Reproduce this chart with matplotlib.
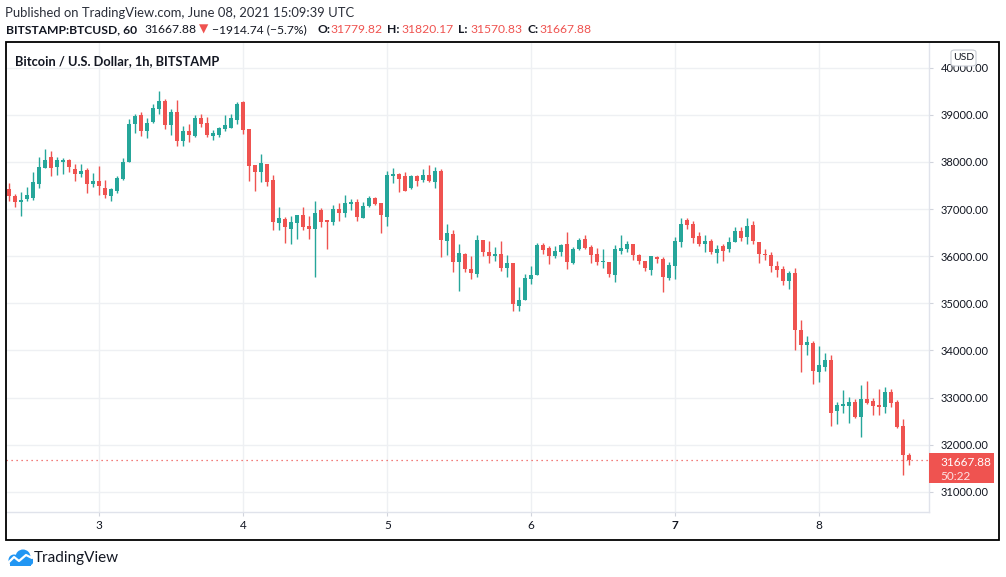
import numpy as np
import matplotlib
matplotlib.use("Agg")
import matplotlib.pyplot as plt
from matplotlib.patches import Rectangle, FancyBboxPatch, Circle

plt.rcParams['font.family'] = ['Lato', 'DejaVu Sans']

# BTCUSD 1h candles, June 2 09:00 -> June 8 15:00 (UTC)
opens = [37417, 37269, 37149, 37206, 37234, 37530, 37869, 38095, 37891, 37997,
         38032, 37841, 37742, 37820, 37530, 37587, 37439, 37276, 37382, 37629,
         37989, 38802, 38985, 38653, 38837, 39112, 39282, 38780, 39049, 38441,
         38646, 38547, 38922, 38816, 38547, 38569, 38696, 38717, 38886, 39261,
         38689, 37926, 37785, 37947, 37615, 36704, 36782, 36577, 36704, 36874,
         36641, 36577, 36973, 36761, 36718, 36994, 36909, 37100, 37142, 36803,
         37057, 37227, 37121, 36824, 37693, 37735, 37693, 37439, 37693, 37608,
         37714, 37566, 37799, 36316, 36464, 35878, 36040, 35723, 35617, 36337,
         36083, 36005, 36040, 35751, 35850, 34946, 35073, 35518, 35596, 36231,
         36167, 36005, 36090, 36252, 35850, 36146, 36358, 36189, 36040, 35878,
         35871, 35602, 36111, 36146, 36252, 36019, 35899, 35708, 35977, 35934,
         35539, 35793, 36302, 36761, 36676, 36422, 36259, 36316, 36069, 36210,
         36153, 36302, 36528, 36400, 36655, 36295, 36047, 36026, 35786, 35723,
         35475, 35638, 34437, 34120, 34155, 33548, 33653, 33795, 32721, 32827,
         32827, 32912, 32594, 32968, 32926, 32841, 32806, 33117, 32912, 32396,
         31779.82]
highs = [37545, 37326, 37354, 37460, 37778, 38095, 38265, 38223, 38095, 38074,
         38053, 37947, 37947, 37862, 37756, 37905, 37608, 37439, 37693, 38074,
         38900, 39006, 39049, 38922, 39232, 39494, 39324, 39112, 39303, 38752,
         38794, 38985, 39006, 38943, 38667, 38731, 38985, 39006, 39261, 39282,
         38689, 37926, 38159, 37947, 37714, 37043, 36831, 36853, 36874, 37043,
         36853, 37163, 37015, 36761, 37078, 37121, 37290, 37206, 37206, 37142,
         37269, 37248, 37121, 37799, 37862, 37756, 37778, 37714, 37714, 37841,
         37926, 37884, 37841, 36676, 36549, 36252, 36062, 35998, 36443, 36337,
         36316, 36189, 36316, 36019, 35850, 35341, 35617, 35786, 36273, 36273,
         36210, 36210, 36252, 36507, 36189, 36379, 36443, 36231, 36167, 36146,
         35871, 36231, 36443, 36316, 36252, 36047, 35899, 35998, 35998, 35977,
         35878, 36408, 36810, 36803, 36747, 36521, 36443, 36358, 36231, 36252,
         36401, 36612, 36612, 36810, 36740, 36295, 36146, 36083, 35892, 35786,
         35680, 35744, 34649, 34303, 34197, 34098, 33943, 33908, 32912, 33159,
         33018, 32975, 33272, 33350, 32990, 33187, 33230, 33187, 32954, 32545,
         31820.17]
lows = [37170, 37043, 36853, 37170, 37184, 37446, 37869, 37693, 37721, 37742,
        37785, 37594, 37679, 37340, 37467, 37297, 37234, 37170, 37340, 37615,
        37989, 38611, 38547, 38505, 38816, 39006, 38689, 38569, 38336, 38336,
        38420, 38526, 38738, 38526, 38463, 38526, 38653, 38717, 38802, 38590,
        37594, 37382, 37573, 37488, 36556, 36556, 36280, 36259, 36365, 36556,
        36365, 35560, 36612, 36146, 36662, 36740, 36824, 36973, 36740, 36803,
        37036, 37078, 36485, 36633, 37545, 37354, 37382, 37425, 37481, 37566,
        37566, 37439, 35984, 36019, 35659, 35264, 35659, 35518, 35560, 35998,
        35857, 35892, 35687, 35560, 34840, 34840, 35073, 35405, 35596, 36047,
        35836, 35963, 36005, 35730, 35836, 36132, 36153, 35857, 35814, 35751,
        35560, 35454, 36047, 36090, 35920, 35836, 35687, 35595, 35857, 35242,
        35490, 35518, 36196, 36577, 36280, 36217, 36090, 36047, 35857, 35899,
        36090, 36302, 36323, 36259, 36259, 35857, 35920, 35666, 35560, 35391,
        35306, 34014, 33548, 33908, 33293, 33336, 33569, 32403, 32432, 32679,
        32467, 32573, 32170, 32869, 32636, 32636, 32679, 32806, 32361, 31358,
        31570.83]
closes = [37276, 37149, 37184, 37290, 37566, 37884, 38032, 37869, 38032, 38032,
          37891, 37742, 37799, 37530, 37587, 37488, 37297, 37417, 37650, 37989,
          38794, 38964, 38653, 38816, 39134, 39289, 38780, 39049, 38441, 38646,
          38569, 38922, 38802, 38569, 38604, 38710, 38773, 38922, 39218, 38675,
          37912, 37785, 37968, 37573, 36725, 36810, 36619, 36718, 36874, 36619,
          36577, 36909, 36718, 36718, 36994, 36909, 37121, 37142, 36824, 37057,
          37227, 37100, 36867, 37714, 37735, 37629, 37382, 37693, 37587, 37714,
          37587, 37799, 36337, 36485, 35871, 36062, 35723, 35638, 36337, 36083,
          36005, 36040, 35751, 35850, 34988, 35066, 35532, 35596, 36231, 36132,
          36005, 36104, 36231, 35871, 36146, 36337, 36167, 36026, 35871, 35899,
          35624, 36146, 36167, 36252, 36026, 35899, 35758, 35998, 35934, 35560,
          35807, 36316, 36676, 36662, 36386, 36259, 36316, 36090, 36146, 36111,
          36295, 36528, 36386, 36634, 36323, 36047, 36026, 35793, 35708, 35475,
          35638, 34437, 34120, 34176, 33569, 33689, 33795, 32679, 32841, 32869,
          32912, 32594, 32968, 32891, 32827, 32806, 33117, 32891, 32375, 31780,
          31667.88]

day_pos = [15, 39, 63, 87, 111, 135]
day_labels = ['3', '4', '5', '6', '7', '8']
price_ticks = [31000, 32000, 33000, 34000, 35000, 36000, 37000, 38000, 39000, 40000]
last_price = 31667.88
countdown = '50:22'

GREEN = '#26a69a'
RED = '#ef5350'
TXT = '#131722'
W, H = 1006, 577

fig = plt.figure(figsize=(W / 100, H / 100), dpi=100)
ax = fig.add_axes([6 / W, 1 - 512 / H, (929 - 6) / W, (512 - 42.5) / H])

o = np.array(opens, dtype=float)
h = np.array(highs, dtype=float)
l = np.array(lows, dtype=float)
c = np.array(closes, dtype=float)
x = np.arange(len(o))
cols = np.where(c >= o, GREEN, RED)

ax.vlines(x, l, h, colors=cols, lw=1, zorder=3)
ax.bar(x, np.maximum(np.abs(c - o), 18), bottom=np.minimum(o, c), width=0.7,
       color=cols, lw=0, zorder=4)

ax.set_xlim(-0.55, 153.3)
ax.set_ylim(30574, 40532)

ax.set_xticks(day_pos)
ax.set_xticklabels(day_labels, fontsize=8.5, color=TXT)
for lab in ax.get_xticklabels():
    if lab.get_text() == '7':
        lab.set_fontweight('bold')
ax.set_yticks(price_ticks)
ax.set_yticklabels([f'{v:.2f}' for v in price_ticks], fontsize=8, color=TXT)
ax.yaxis.tick_right()
ax.tick_params(axis='y', length=3, width=0.8, color='#d1d4dc', pad=5.5)
ax.tick_params(axis='x', length=3, width=0.8, color='#d1d4dc', pad=3)
ax.grid(color='#eef0f3', lw=1, zorder=0)
ax.set_axisbelow(True)

for s in ['left', 'top']:
    ax.spines[s].set_visible(False)
for s in ['right', 'bottom']:
    ax.spines[s].set_color('#e0e3eb')
    ax.spines[s].set_linewidth(1)

ax.axhline(last_price, color=RED, lw=0.9, ls=(0, (1, 3)), zorder=2)

# outer frame
fig.patches.append(Rectangle((6 / W, 1 - 540 / H), (999 - 6) / W, (540 - 42.5) / H,
                             transform=fig.transFigure, fill=False, ec='#000000', lw=1.3))

# last price tag
fig.patches.append(Rectangle((929 / W, 1 - 483 / H), 65 / W, 30 / H,
                             transform=fig.transFigure, color=RED, lw=0))
fig.text(940 / W, 1 - 462 / H, f'{last_price:.2f}', color='white', fontsize=8.5,
         va='center', ha='left')
fig.text(940 / W, 1 - 476 / H, countdown, color='#fde3e3', fontsize=8.5,
         va='center', ha='left')

# USD badge
fig.patches.append(FancyBboxPatch((951 / W, 1 - 66 / H), 25 / W, 16 / H,
                                  boxstyle='round,pad=0,rounding_size=0.004',
                                  transform=fig.transFigure, fc='white', ec='#c8ccd4', lw=0.8))
fig.text(963.5 / W, 1 - 58 / H, 'USD', color=TXT, fontsize=7.5, va='center', ha='center')

# header
fig.text(5 / W, 1 - 13 / H, 'Published on TradingView.com, June 08, 2021 15:09:39 UTC',
         color='#2a2e39', fontsize=9.4, va='center', ha='left')

# second header line, pieces placed where they sit in the original
parts = [
    (6, 'BITSTAMP:BTCUSD, 60', TXT, 'bold'),
    (144, '31667.88', TXT, 'normal'),
    (199, '\u25bc', RED, 'normal'),
    (212, '\u22121914.74 (\u22125.7%)', TXT, 'normal'),
    (318, 'O:', TXT, 'bold'),
    (330, '31779.82', RED, 'normal'),
    (387, 'H:', TXT, 'bold'),
    (401, '31820.17', RED, 'normal'),
    (458, 'L:', TXT, 'bold'),
    (470, '31570.83', RED, 'normal'),
    (527, 'C:', TXT, 'bold'),
    (539, '31667.88', RED, 'normal'),
]
for xp, s, col, wt in parts:
    fig.text(xp / W, 1 - 29.5 / H, s, color=col, fontweight=wt, fontsize=8.7,
             va='center', ha='left')

fig.text(15 / W, 1 - 61 / H, 'Bitcoin / U.S. Dollar, 1h, BITSTAMP', color=TXT,
         fontweight='bold', fontsize=9.3, va='center', ha='left')

# TradingView logo
lax = fig.add_axes([6 / W, 1 - 566 / H, 27 / W, 17 / H])
lax.set_xlim(0, 27)
lax.set_ylim(0, 17)
lax.axis('off')
blue = '#2196f3'
lax.add_patch(Circle((8, 6), 5.5, color=blue, lw=0))
lax.add_patch(Circle((17, 9), 7.5, color=blue, lw=0))
lax.add_patch(Circle((23, 5), 4.5, color=blue, lw=0))
lax.add_patch(Rectangle((4, 0.5), 21, 5, color=blue, lw=0))
lax.plot([2, 8, 13, 20, 26], [3, 9, 5, 11, 8], color='white', lw=1.6,
         solid_capstyle='round', solid_joinstyle='round')
fig.text(34 / W, 1 - 558 / H, 'TradingView', color=TXT, fontsize=11, va='center', ha='left')

fig.savefig('out.png', dpi=100)
